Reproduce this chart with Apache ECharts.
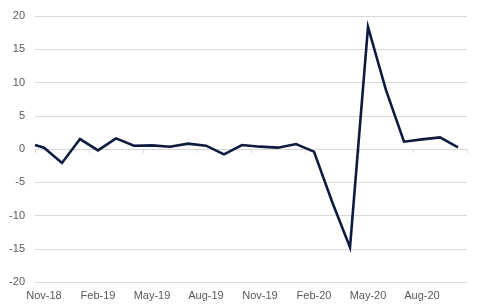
<!DOCTYPE html>
<html>
<head>
<meta charset="utf-8">
<script src="https://cdn.jsdelivr.net/npm/echarts@6/dist/echarts.min.js"></script>
<style>html,body{margin:0;padding:0;background:#fff;}#c{width:481px;height:308px;}</style>
</head>
<body>
<div id="c"></div>
<script>
// Month categories on the axis
var categories = ['Nov-18','Dec-18','Jan-19','Feb-19','Mar-19','Apr-19','May-19','Jun-19','Jul-19','Aug-19','Sep-19','Oct-19',
                  'Nov-19','Dec-19','Jan-20','Feb-20','Mar-20','Apr-20','May-20','Jun-20','Jul-20','Aug-20','Sep-20','Oct-20'];
// Month offsets of each observation (first observation sits at the start of the axis)
var monthIndex = [-0.5,0,1,2,3,4,5,6,7,8,9,10,11,12,13,14,15,16,17,18,19,20,21,22,23];
// Series values
var values = [0.6,0.2,-2.1,1.5,-0.2,1.6,0.5,0.55,0.35,0.8,0.5,-0.8,0.6,0.35,0.2,0.75,-0.4,-7.9,-14.8,18.35,8.85,1.1,1.45,1.75,0.25];
var yTicks = {min:-20, max:20, interval:5};

var labelColor = '#595959';
var gridColor = '#d9d9d9';
var chart = echarts.init(document.getElementById('c'), null, {renderer:'canvas'});
chart.setOption({
  animation:false,
  grid:{left:35, right:14, top:16, bottom:26, containLabel:false},
  xAxis:[
    {type:'category', data:categories, position:'bottom', boundaryGap:true,
     axisLine:{show:false, onZero:false}, axisTick:{show:false},
     axisLabel:{interval:2, color:labelColor, fontSize:11, fontFamily:'Liberation Sans, Arial, sans-serif', margin:8}},
    {type:'category', data:categories, position:'top', boundaryGap:true,
     axisLine:{show:true, onZero:true, lineStyle:{color:gridColor, width:1}},
     axisTick:{show:true, inside:true, interval:2, length:4, lineStyle:{color:gridColor}},
     axisLabel:{show:false}},
    {type:'value', min:-0.5, max:23.5, show:false}
  ],
  yAxis:{type:'value', min:yTicks.min, max:yTicks.max, interval:yTicks.interval,
    axisLine:{show:false}, axisTick:{show:false},
    axisLabel:{color:labelColor, fontSize:11, fontFamily:'Liberation Sans, Arial, sans-serif', margin:10},
    splitLine:{lineStyle:{color:gridColor, width:1}}},
  series:[{type:'line', xAxisIndex:2, showSymbol:false, symbol:'none',
    data:values.map(function(v,i){return [monthIndex[i], v];}),
    lineStyle:{color:'#0e1a3f', width:2.6, join:'miter'}}]
});
</script>
</body>
</html>
